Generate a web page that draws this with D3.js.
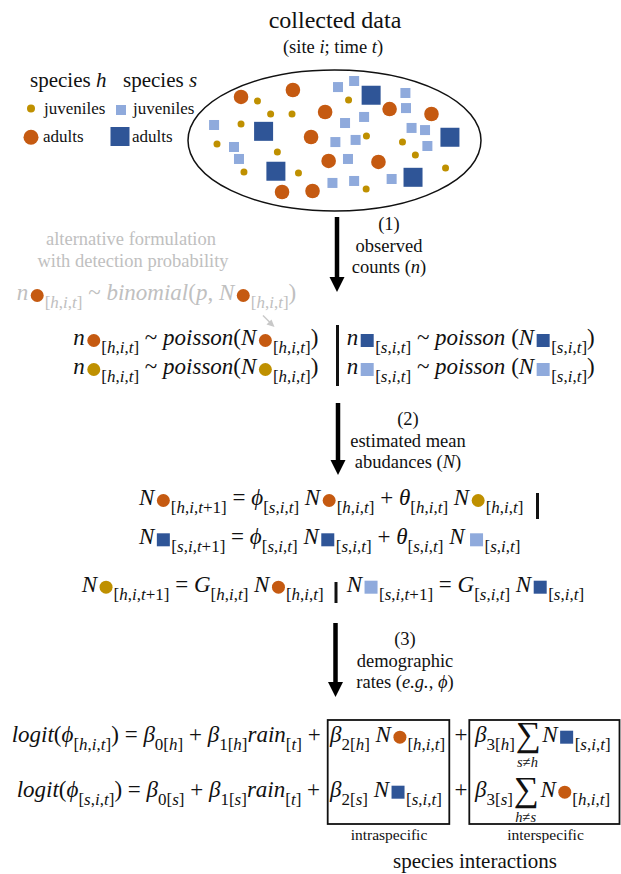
<!DOCTYPE html>
<html><head><meta charset="utf-8">
<script src="https://cdn.jsdelivr.net/npm/d3@7"></script>
<style>
body{margin:0;background:#fff}
svg text{white-space:pre}
</style>
</head><body><svg id="c" width="621" height="874"></svg>
<script>
// ---------- data ----------
const COLORS = {adultH:"#C55A11", juvH:"#BF9000", adultS:"#2F5597", juvS:"#8FAADC"};
// positions in the sampled site (0-100 across the ellipse bounding box)
const adultsH = [[18.1,19.1],[35.8,14.2],[46.8,29.8],[68.8,27.7],[83.1,31.2],[42.0,47.5],[48.0,64.5],[65.0,65.2],[32.1,86.5],[42.5,85.8]];
const juvenilesH = [[23.7,22.0],[28.2,31.2],[35.5,31.2],[18.1,38.3],[9.9,52.5],[30.5,58.2],[19.1,72.3],[37.7,73.0],[54.8,21.3],[60.9,46.8],[73.2,51.1],[77.6,60.3],[87.9,69.5],[60.8,84.4]];
const juvenilesS = [[51.2,12.1],[56.7,7.8],[74.2,16.3],[74.4,27.0],[53.6,37.6],[60.1,33.3],[8.9,39.0],[76.3,41.1],[80.9,42.6],[50.3,51.1],[57.2,49.6],[81.7,53.9],[15.7,54.6],[17.4,63.1],[54.6,63.1],[49.3,80.1],[56.7,78.7],[69.5,77.3]];
const adultsS = [[62.5,17.9],[25.8,43.5],[89.4,47.7],[30.0,71.8],[76.8,76.1]];

const stepLabels = [
  ["(1)", "observed", "counts (*n*)"],
  ["(2)", "estimated mean", "abudances (*N*)"],
  ["(3)", "demographic", "rates (*e.g.*, *ϕ*)"]
];

// equations: strings are text, {sub} subscript, {c} circle, {q} square, {sum} summation
const eqBinomial = ["n",{c:"adultH"},{sub:"[h,i,t]"}," ~ binomial(p, N",{c:"adultH"},{sub:"[h,i,t]"},")"];
const eqPoisL1 = ["n",{c:"adultH"},{sub:"[h,i,t]"}," ~ poisson(N",{c:"adultH"},{sub:"[h,i,t]"},")"];
const eqPoisL2 = ["n",{c:"juvH"},{sub:"[h,i,t]"}," ~ poisson(N",{c:"juvH"},{sub:"[h,i,t]"},")"];
const eqPoisR1 = ["n",{q:"adultS"},{sub:"[s,i,t]"}," ~ poisson (N",{q:"adultS"},{sub:"[s,i,t]"},")"];
const eqPoisR2 = ["n",{q:"juvS"},{sub:"[s,i,t]"}," ~ poisson (N",{q:"juvS"},{sub:"[s,i,t]"},")"];
const eqN1 = ["N",{c:"adultH"},{sub:"[h,i,t+1]"}," = ϕ",{sub:"[s,i,t]"}," N",{c:"adultH"},{sub:"[h,i,t]"}," + θ",{sub:"[h,i,t]"}," N",{c:"juvH"},{sub:"[h,i,t]"}];
const eqN2 = ["N",{q:"adultS"},{sub:"[s,i,t+1]"}," = ϕ",{sub:"[s,i,t]"}," N",{q:"adultS"},{sub:"[s,i,t]"}," + θ",{sub:"[s,i,t]"}," N",{g:3},{q:"juvS"},{sub:"[s,i,t]"}];
const eqN3L = ["N",{c:"juvH"},{sub:"[h,i,t+1]"}," = G",{sub:"[h,i,t]"}," N",{c:"adultH"},{sub:"[h,i,t]"}];
const eqN3R = ["N",{q:"juvS"},{sub:"[s,i,t+1]"}," = G",{sub:"[s,i,t]"}," N",{q:"adultS"},{sub:"[s,i,t]"}];
const eqLogit1 = ["logit(ϕ",{sub:"[h,i,t]"},") = β",{sub:"0[h]"}," + β",{sub:"1[h]"},"rain",{sub:"[t]"}," +"];
const eqLogit2 = ["logit(ϕ",{sub:"[s,i,t]"},") = β",{sub:"0[s]"}," + β",{sub:"1[s]"},"rain",{sub:"[t]"}," +"];
const eqIntra1 = ["β",{sub:"2[h]"}," N",{c:"adultH"},{sub:"[h,i,t]"}];
const eqIntra2 = ["β",{sub:"2[s]"}," N",{q:"adultS"},{sub:"[s,i,t]"}];
const eqInter1 = ["β",{sub:"3[h]"},{sum:"s≠h"},"N",{q:"adultS"},{sub:"[s,i,t]"}];
const eqInter2 = ["β",{sub:"3[s]"},{sum:"h≠s"},"N",{c:"adultH"},{sub:"[h,i,t]"}];

// ---------- drawing ----------
const FONT = '"Liberation Serif","Times New Roman",serif';
const svg = d3.select("#c");
const GRAY = "#c0c0c0";
function txt(x,y,size,color){
  return svg.append("text").attr("x",x).attr("y",y).attr("font-size",size).attr("fill",color||"#111").style("font-family",FONT);
}
function markup(t, str){ // *x* -> italic
  str.split(/(\*[^*]+\*)/).filter(s=>s.length).forEach(s=>{
    const it = s.startsWith("*");
    t.append("tspan").attr("font-style", it?"italic":"normal").text(it? s.slice(1,-1): s);
  });
  return t;
}
function label(x,y,str,size,opts={}){
  const t = txt(x,y,size,opts.color).attr("text-anchor", opts.anchor||"middle");
  return markup(t,str);
}
function autoRuns(s){
  const out=[];
  for (const ch of s){
    const it = /[A-Za-z\u0370-\u03FF]/.test(ch);
    if (out.length && out[out.length-1].it===it) out[out.length-1].s+=ch; else out.push({s:ch,it});
  }
  return out;
}
// ink metrics of the summation sign
const ctx = document.createElement("canvas").getContext("2d");
ctx.font = '100px "Liberation Serif"';
const sm = ctx.measureText("∑");
const sumInk = {asc: sm.actualBoundingBoxAscent/100, desc: sm.actualBoundingBoxDescent/100,
  left: sm.actualBoundingBoxLeft/100, right: sm.actualBoundingBoxRight/100};

function drawEq(x0, y, toks, color="#111", size=23, sub=17){
  let x = x0;
  toks.forEach(tk=>{
    if (typeof tk === "string" || tk.sub!==undefined){
      const isSub = typeof tk !== "string";
      const str = isSub ? tk.sub : tk;
      const t = txt(x, y+(isSub?8:0), isSub?sub:size, color);
      autoRuns(str).forEach(r=>t.append("tspan").attr("font-style", r.it?"italic":"normal").text(r.s));
      x += t.node().getComputedTextLength();
    } else if (tk.c){
      const r = 6.5;
      svg.append("circle").attr("cx",x+2.5+r).attr("cy",y-4.5).attr("r",r).attr("fill",COLORS[tk.c]);
      x += 2.5+2*r+1;
    } else if (tk.q){
      const s = 13;
      svg.append("rect").attr("x",x+2.5).attr("y",y-4.5-s/2).attr("width",s).attr("height",s).attr("fill",COLORS[tk.q]);
      x += 2.5+s+1.5;
    } else if (tk.g){
      x += tk.g;
    } else if (tk.sum){
      const inkH = 31, top = y-19;
      const fs = inkH/(sumInk.asc+sumInk.desc);
      const base = top + sumInk.asc*fs;
      const w = (sumInk.left+sumInk.right)*fs;
      txt(x+2+sumInk.left*fs, base, fs, color).text("∑");
      const u = txt(x+2+w/2, y+25.5, 14.5, color).attr("text-anchor","middle");
      autoRuns(tk.sum).forEach(r=>u.append("tspan").attr("font-style", r.it?"italic":"normal").text(r.s));
      x += w + 6;
    }
  });
  return x;
}
function vbar(x,y1,y2,w=3){
  svg.append("line").attr("x1",x).attr("x2",x).attr("y1",y1).attr("y2",y2).attr("stroke","#111").attr("stroke-width",w);
}
function arrow(x,y1,y2){
  svg.append("line").attr("x1",x).attr("x2",x).attr("y1",y1).attr("y2",y2-12).attr("stroke","#000").attr("stroke-width",4.5);
  svg.append("path").attr("d",`M${x-7.5},${y2-15}L${x+7.5},${y2-15}L${x},${y2}Z`).attr("fill","#000");
}

// title
label(335,28,"collected data",24);
label(333,53,"(site *i*; time *t*)",18.5);

// legend
label(30,87,"species *h*",21,{anchor:"start"});
label(123,87,"species *s*",21,{anchor:"start"});
svg.append("circle").attr("cx",31).attr("cy",108.5).attr("r",4).attr("fill",COLORS.juvH);
label(44,113.5,"juveniles",17,{anchor:"start"});
svg.append("rect").attr("x",116).attr("y",105).attr("width",10).attr("height",10).attr("fill",COLORS.juvS);
label(133,113.5,"juveniles",17,{anchor:"start"});
svg.append("circle").attr("cx",31).attr("cy",137.3).attr("r",7.5).attr("fill",COLORS.adultH);
label(43,142,"adults",17,{anchor:"start"});
svg.append("rect").attr("x",110.5).attr("y",127).attr("width",19).attr("height",19).attr("fill",COLORS.adultS);
label(132,142,"adults",17,{anchor:"start"});

// site ellipse with individuals
const sx = d3.scaleLinear().domain([0,100]).range([188,481]);
const sy = d3.scaleLinear().domain([0,100]).range([70,211]);
svg.append("ellipse").attr("cx",sx(50)).attr("cy",sy(50)).attr("rx",(sx(100)-sx(0))/2).attr("ry",(sy(100)-sy(0))/2)
  .attr("fill","none").attr("stroke","#111").attr("stroke-width",1.5);
const site = svg.append("g");
site.selectAll(".js").data(juvenilesS).join("rect").attr("x",d=>sx(d[0])-5).attr("y",d=>sy(d[1])-5).attr("width",10).attr("height",10).attr("fill",COLORS.juvS);
site.selectAll(".as").data(adultsS).join("rect").attr("x",d=>sx(d[0])-9.5).attr("y",d=>sy(d[1])-9.5).attr("width",19).attr("height",19).attr("fill",COLORS.adultS);
site.selectAll(".jh").data(juvenilesH).join("circle").attr("cx",d=>sx(d[0])).attr("cy",d=>sy(d[1])).attr("r",3.5).attr("fill",COLORS.juvH);
site.selectAll(".ah").data(adultsH).join("circle").attr("cx",d=>sx(d[0])).attr("cy",d=>sy(d[1])).attr("r",7.3).attr("fill",COLORS.adultH);

// step arrows + labels
const arrows = [[337,217,292,389,230],[338,403,475,408,425],[335.5,623,697,405,645]];
arrows.forEach((a,i)=>{
  arrow(a[0],a[1],a[2]);
  stepLabels[i].forEach((s,j)=>label(a[3],a[4]+j*21.5,s,18.5));
});

// alternative formulation (gray)
label(131,245,"alternative formulation",18.5,{color:GRAY});
label(133,266.5,"with detection probability",18.5,{color:GRAY});
drawEq(16.7,300,eqBinomial,GRAY);
svg.append("line").attr("x1",263).attr("y1",315.5).attr("x2",271).attr("y2",323.5).attr("stroke","#c8c8c8").attr("stroke-width",1.5);
svg.append("path").attr("d","M274.5,327L266.5,324.5L271.5,319.5Z").attr("fill","#c8c8c8");

// observation model
drawEq(73.3,345,eqPoisL1);
drawEq(73.3,374,eqPoisL2);
vbar(337.5,325,386);
drawEq(346.7,345,eqPoisR1);
drawEq(346.7,374,eqPoisR2);

// process model
drawEq(139,505,eqN1);
vbar(537.5,493,519);
drawEq(139,544.3,eqN2);
drawEq(81.7,591.7,eqN3L);
vbar(336,582,603);
drawEq(346.7,591.7,eqN3R);

// demographic rates
drawEq(11.7,741.7,eqLogit1);
drawEq(16.7,796.7,eqLogit2);
svg.append("rect").attr("x",327.7).attr("y",720).attr("width",121.6).attr("height",104).attr("fill","none").attr("stroke","#111").attr("stroke-width",1.8);
svg.append("rect").attr("x",469.3).attr("y",720).attr("width",150.2).attr("height",104).attr("fill","none").attr("stroke","#111").attr("stroke-width",1.8);
drawEq(330,741.7,eqIntra1);
drawEq(330,796.7,eqIntra2);
drawEq(454.5,741.7,["+"]);
drawEq(454.5,796.7,["+"]);
drawEq(475,741.7,eqInter1);
drawEq(475,796.7,eqInter2);
label(389,840,"intraspecific",15.5);
label(545.5,840,"interspecific",15.5);
label(475,868,"species interactions",21);
</script></body></html>
